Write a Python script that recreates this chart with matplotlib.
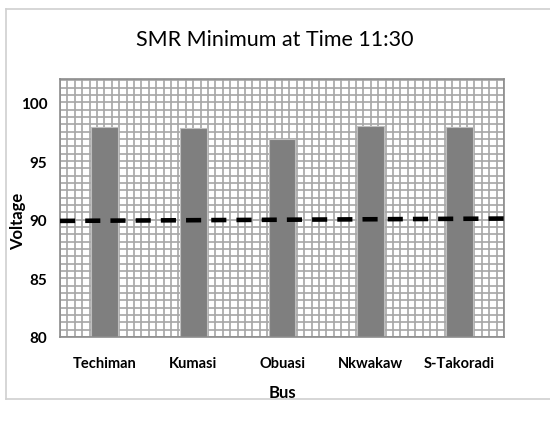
import matplotlib
matplotlib.use("Agg")
import matplotlib.pyplot as plt
import numpy as np
from matplotlib.lines import Line2D

buses = ["Techiman", "Kumasi", "Obuasi", "Nkwakaw", "S-Takoradi"]
voltages = [97.9, 97.8, 96.9, 98.0, 97.9]
limit_start = 89.9
limit_end = 90.1
yticks = [80, 85, 90, 95, 100]

plt.rcParams['font.family'] = ['Lato', 'DejaVu Sans']

W, H = 550, 435
fig = plt.figure(figsize=(W / 100, H / 100), dpi=100)
fig.patch.set_facecolor("white")

# plot area in pixels
L, R, T, B = 60, 504, 80, 338
ax = fig.add_axes([L / W, 1 - B / H, (R - L) / W, (B - T) / H])

x = np.arange(len(buses))
ax.set_xlim(-0.5, len(buses) - 0.5)
ax.set_ylim(80, 102)

# pattern grid
for gx in np.arange(-0.5, len(buses) - 0.5 + 1e-9, 1 / 12):
    ax.axvline(gx, color="#a6a6a6", lw=1.2, zorder=0)
for gy in np.arange(80, 102 + 1e-9, 0.625):
    ax.axhline(gy, color="#a6a6a6", lw=1.2, zorder=0)

ax.bar(x, voltages, width=0.3, color="#7f7f7f", edgecolor="#bfbfbf", lw=0.8, zorder=2)

ax.plot([-0.5, len(buses) - 0.5], [limit_start, limit_end], color="black",
        lw=3.3, dashes=(3.3, 2.2), zorder=3, dash_capstyle="butt")

ax.set_xticks(x)
ax.set_xticklabels(buses, fontsize=10.5, fontweight="bold")
ax.set_yticks(yticks)
ax.set_yticklabels([str(v) for v in yticks], fontsize=11, fontweight="bold")
ax.tick_params(axis="both", length=0)
ax.tick_params(axis="x", pad=14)
ax.tick_params(axis="y", pad=9)
for s in ax.spines.values():
    s.set_color("#8c8c8c")
    s.set_linewidth(1.2)

ax.set_xlabel("Bus", fontsize=12, fontweight="bold", labelpad=10)
fig.text(18 / W, 1 - 221 / H, "Voltage", rotation=90, ha="center", va="center",
         fontsize=12, fontweight="bold")

fig.text(275 / W, 1 - 40 / H, "SMR Minimum at Time 11:30", ha="center", va="center",
         fontsize=15.5)

# chart area frame (light gray)
c = "#d0d0d0"
fig.add_artist(Line2D([6 / W, 1], [1 - 10 / H, 1 - 10 / H], color=c, lw=1.2))
fig.add_artist(Line2D([6 / W, 1], [1 - 400 / H, 1 - 400 / H], color=c, lw=1.2))
fig.add_artist(Line2D([6 / W, 6 / W], [1 - 10 / H, 1 - 400 / H], color=c, lw=1.2))

fig.savefig("out.png", dpi=100, facecolor="white")
